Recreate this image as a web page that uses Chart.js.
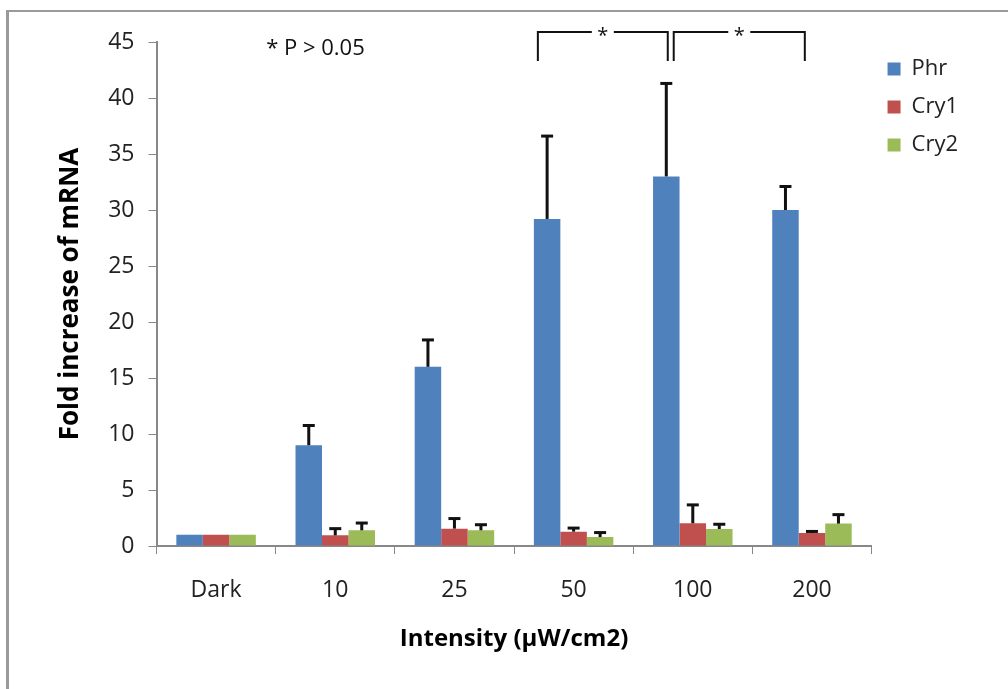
<!DOCTYPE html>
<html>
<head>
<meta charset="utf-8">
<script src="https://cdn.jsdelivr.net/npm/chart.js@4/dist/chart.umd.min.js"></script>
<style>
  html, body { margin: 0; padding: 0; background: #fff; overflow: hidden; }
  #frame {
    position: absolute; left: 6px; top: 10px; width: 1100px; height: 800px;
    border-left: 3px solid #9a9a9a; border-top: 2px solid #9a9a9a;
  }
  #wrap { position: absolute; left: 0; top: 0; width: 1008px; height: 689px; }
</style>
</head>
<body>
<div id="frame"></div>
<div id="wrap"><canvas id="mrnaChart" width="1008" height="689"></canvas></div>
<script>
// intensities (µW/cm2)
const categories = ["Dark", "10", "25", "50", "100", "200"];

const phrValues = [1, 9, 16, 29.2, 33, 30];
const cry1Values = [1, 0.95, 1.55, 1.28, 2.03, 1.16];
const cry2Values = [1, 1.4, 1.4, 0.8, 1.52, 2.0];

// upper error (SD) for each bar
const phrErr = [0, 1.76, 2.4, 7.4, 8.3, 2.1];
const cry1Err = [0, 0.6, 0.9, 0.32, 1.64, 0.14];
const cry2Err = [0, 0.65, 0.5, 0.4, 0.42, 0.8];

const yTicks = [0, 5, 10, 15, 20, 25, 30, 35, 40, 45];

// significance brackets, in category index units
const brackets = [
  { from: 2.70, to: 3.79, label: "*" },
  { from: 3.84, to: 4.94, label: "*" },
];
const noteText = "* P > 0.05";

const FONT = "'Open Sans', 'DejaVu Sans', sans-serif";
const errors = [phrErr, cry1Err, cry2Err];

const errorBarPlugin = {
  id: "errorBars",
  afterDatasetsDraw(chart) {
    const ctx = chart.ctx;
    const y = chart.scales.y;
    ctx.save();
    ctx.strokeStyle = "#111";
    chart.data.datasets.forEach((ds, di) => {
      const meta = chart.getDatasetMeta(di);
      meta.data.forEach((bar, i) => {
        const err = errors[di][i];
        if (!err) return;
        const top = y.getPixelForValue(ds.data[i] + err);
        ctx.lineWidth = 3;
        ctx.beginPath();
        ctx.moveTo(bar.x, bar.y);
        ctx.lineTo(bar.x, top);
        ctx.stroke();
        ctx.beginPath();
        ctx.moveTo(bar.x - 6, top);
        ctx.lineTo(bar.x + 6, top);
        ctx.stroke();
      });
    });
    ctx.restore();
  },
};

const annotatePlugin = {
  id: "annotate",
  afterDraw(chart) {
    const ctx = chart.ctx;
    const x = chart.scales.x;
    const y = chart.scales.y;
    ctx.save();
    ctx.strokeStyle = "#111";
    ctx.lineWidth = 2;
    const yTop = y.getPixelForValue(45.9);
    const yBot = y.getPixelForValue(43.3);
    brackets.forEach((b) => {
      const x1 = x.getPixelForValue(b.from);
      const x2 = x.getPixelForValue(b.to);
      const mid = (x1 + x2) / 2;
      ctx.beginPath();
      ctx.moveTo(x1, yBot);
      ctx.lineTo(x1, yTop);
      ctx.lineTo(mid - 11, yTop);
      ctx.moveTo(mid + 11, yTop);
      ctx.lineTo(x2, yTop);
      ctx.lineTo(x2, yBot);
      ctx.stroke();
      ctx.fillStyle = "#111";
      ctx.font = "20px " + FONT;
      ctx.textAlign = "center";
      ctx.textBaseline = "middle";
      ctx.fillText(b.label, mid, yTop + 4);
    });
    ctx.fillStyle = "#111";
    ctx.font = "22px " + FONT;
    ctx.textAlign = "left";
    ctx.textBaseline = "middle";
    ctx.fillText(noteText, x.getPixelForValue(0.42), y.getPixelForValue(44.4));
    ctx.restore();
  },
};

new Chart(document.getElementById("mrnaChart").getContext("2d"), {
  type: "bar",
  data: {
    labels: categories,
    datasets: [
      { label: "Phr", data: phrValues, backgroundColor: "#4F81BD" },
      { label: "Cry1", data: cry1Values, backgroundColor: "#C0504D" },
      { label: "Cry2", data: cry2Values, backgroundColor: "#9BBB59" },
    ],
  },
  options: {
    responsive: false,
    animation: false,
    devicePixelRatio: 1,
    layout: { padding: { left: 55, top: 42, right: 40, bottom: 38 } },
    datasets: { bar: { categoryPercentage: 0.667, barPercentage: 1.0 } },
    scales: {
      x: {
        grid: { drawOnChartArea: false, color: "#888", tickLength: 8, offset: true },
        border: { color: "#888", width: 2 },
        ticks: { color: "#222", font: { family: FONT, size: 23, lineHeight: 1.0 }, padding: 25 },
        title: {
          display: true, text: "Intensity (µW/cm2)", color: "#000",
          font: { family: FONT, size: 24, weight: "bold", lineHeight: 1.0 }, padding: { top: 0, bottom: 0 },
        },
      },
      y: {
        min: 0, max: 45,
        afterBuildTicks: (scale) => { scale.ticks = yTicks.map((v) => ({ value: v })); },
        grid: { drawOnChartArea: false, color: "#888", tickLength: 8 },
        border: { color: "#888", width: 2 },
        ticks: { color: "#222", font: { family: FONT, size: 23 }, padding: 14 },
        title: {
          display: true, text: "Fold increase of mRNA", color: "#000",
          font: { family: FONT, size: 26, weight: "bold" }, padding: { top: 0, bottom: 8 },
        },
      },
    },
    plugins: {
      legend: {
        position: "right", align: "start",
        labels: {
          boxWidth: 13, boxHeight: 13, padding: 16, color: "#222",
          font: { family: FONT, size: 22 },
        },
      },
      tooltip: { enabled: false },
    },
  },
  plugins: [errorBarPlugin, annotatePlugin],
});
</script>
</body>
</html>
